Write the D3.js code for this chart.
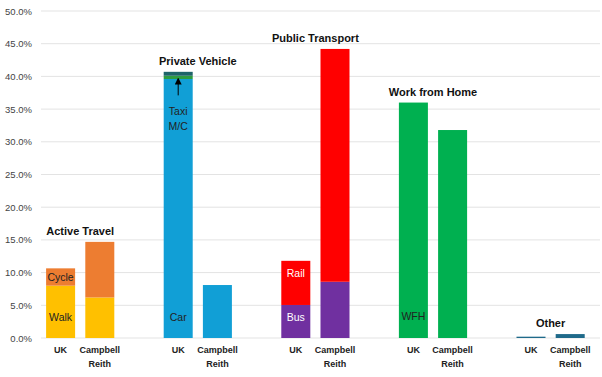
<!DOCTYPE html>
<html lang="en">
<head>
    <meta charset="UTF-8">
    <title>Travel mode share</title>
    <script src="https://cdn.jsdelivr.net/npm/d3@7"></script>
    <style>
        body {margin: 0; background: #fff;}
        svg text {font-family: "Liberation Sans", Arial, sans-serif;}
    </style>
</head>
<body>
<div id="graf"></div>
<script>
    // data (percent of journeys)
    let groups = ["Active Travel", "Private Vehicle", "Public Transport", "Work from Home", "Other"];
    let sources = ["UK", "Campbell Reith"];
    let yTicks = [0, 5, 10, 15, 20, 25, 30, 35, 40, 45, 50];

    // each group: stacked segments bottom -> top, values [UK, Campbell Reith]
    let walk = [8.0, 6.2], cycle = [2.65, 8.5];
    let car = [39.6, 8.1], mc = [0.5, 0], taxi = [0.6, 0];
    let bus = [5.05, 8.6], rail = [6.75, 35.6];
    let wfh = [36.0, 31.8];
    let other = [0.2, 0.6];

    let segments = [
        [{name: "Walk", vals: walk, color: "#ffc000"}, {name: "Cycle", vals: cycle, color: "#ed7d31"}],
        [{name: "Car", vals: car, color: "#119fd6"}, {name: "M/C", vals: mc, color: "#2e9c3f"}, {name: "Taxi", vals: taxi, color: "#1e6469"}],
        [{name: "Bus", vals: bus, color: "#7030a0"}, {name: "Rail", vals: rail, color: "#ff0000"}],
        [{name: "WFH", vals: wfh, color: "#00b050"}],
        [{name: "Other", vals: other, color: "#1f6a8a"}]
    ];

    // in-bar annotations on the UK bars: group, text, value where it sits, colour
    let notes = [
        {g: 0, text: "Walk", at: 3.2, fill: "#222"},
        {g: 0, text: "Cycle", at: 9.3, fill: "#222"},
        {g: 1, text: "Car", at: 3.2, fill: "#222"},
        {g: 1, text: "Taxi", at: 34.6, fill: "#222"},
        {g: 1, text: "M/C", at: 32.4, fill: "#222"},
        {g: 2, text: "Bus", at: 3.2, fill: "#fff"},
        {g: 2, text: "Rail", at: 9.9, fill: "#fff"},
        {g: 3, text: "WFH", at: 3.3, fill: "#222"}
    ];
    let arrowFrom = 37.1; // arrow from the Taxi / M/C note up to the bands

    let width = 602, height = 377;
    let svg = d3.select("#graf").append("svg")
        .attr("width", width).attr("height", height);

    // slots: UK, CR, gap, UK, CR, gap ...
    let slots = [];
    groups.forEach(function (g, i) {
        sources.forEach(function (s) { slots.push(i + "|" + s); });
        if (i < groups.length - 1) slots.push("gap" + i);
    });

    let x = d3.scaleBand().domain(slots).range([41, 589.8])
        .paddingInner(0.26).paddingOuter(0.13);
    let y = d3.scaleLinear().domain([0, 50]).range([338, 11]);

    // gridlines + y labels
    svg.append("g").selectAll("line").data(yTicks).join("line")
        .attr("x1", 41).attr("x2", 600)
        .attr("y1", d => y(d)).attr("y2", d => y(d))
        .attr("stroke", "#e3e3e3").attr("stroke-width", 1);

    let yAxis = svg.append("g").attr("transform", "translate(41,0)")
        .call(d3.axisLeft(y).tickValues(yTicks).tickSize(0).tickPadding(9)
            .tickFormat(d => d.toFixed(1) + "%"));
    yAxis.select(".domain").remove();
    yAxis.selectAll("text").attr("font-size", 9.5).attr("fill", "#444")
        .style("font-family", "Liberation Sans, Arial, sans-serif");

    // stacked bars
    segments.forEach(function (segs, gi) {
        sources.forEach(function (s, si) {
            let base = 0;
            segs.forEach(function (seg) {
                let v = seg.vals[si];
                if (v > 0) {
                    svg.append("rect")
                        .attr("x", x(gi + "|" + s))
                        .attr("width", x.bandwidth())
                        .attr("y", y(base + v))
                        .attr("height", y(base) - y(base + v))
                        .attr("fill", seg.color);
                }
                base += v;
            });
        });
        // group title above the taller bar
        let tops = sources.map((s, si) => d3.sum(segs, seg => seg.vals[si]));
        let cx = (x(gi + "|" + sources[0]) + x(gi + "|" + sources[1]) + x.bandwidth()) / 2;
        svg.append("text")
            .attr("x", cx).attr("y", y(d3.max(tops)) - 7)
            .attr("text-anchor", "middle")
            .attr("font-size", 11).attr("font-weight", "bold").attr("fill", "#111")
            .text(groups[gi]);
    });

    // x labels
    slots.filter(d => d.indexOf("gap") < 0).forEach(function (d) {
        let s = d.split("|")[1];
        let t = svg.append("text")
            .attr("x", x(d) + x.bandwidth() / 2).attr("y", 353)
            .attr("text-anchor", "middle")
            .attr("font-size", 9).attr("font-weight", "bold").attr("fill", "#222");
        let words = s.split(" ");
        words.forEach(function (w, i) {
            t.append("tspan").attr("x", x(d) + x.bandwidth() / 2)
                .attr("dy", i === 0 ? 0 : 14).text(w);
        });
    });

    // notes inside UK bars
    notes.forEach(function (n) {
        svg.append("text")
            .attr("x", x(n.g + "|UK") + x.bandwidth() / 2)
            .attr("y", y(n.at))
            .attr("dy", "0.35em")
            .attr("text-anchor", "middle")
            .attr("font-size", 10.5).attr("fill", n.fill)
            .text(n.text);
    });

    // arrow to taxi / motorcycle bands
    svg.append("defs").append("marker")
        .attr("id", "head").attr("viewBox", "0 0 10 10")
        .attr("refX", 5).attr("refY", 5)
        .attr("markerWidth", 7).attr("markerHeight", 7)
        .attr("orient", "auto-start-reverse")
        .append("path").attr("d", "M0,0L10,5L0,10z").attr("fill", "#000");
    let ax = x("1|UK") + x.bandwidth() / 2;
    svg.append("line")
        .attr("x1", ax).attr("x2", ax)
        .attr("y1", y(arrowFrom)).attr("y2", y(car[0]) + 2)
        .attr("stroke", "#000").attr("stroke-width", 1)
        .attr("marker-end", "url(#head)");
</script>
</body>
</html>
